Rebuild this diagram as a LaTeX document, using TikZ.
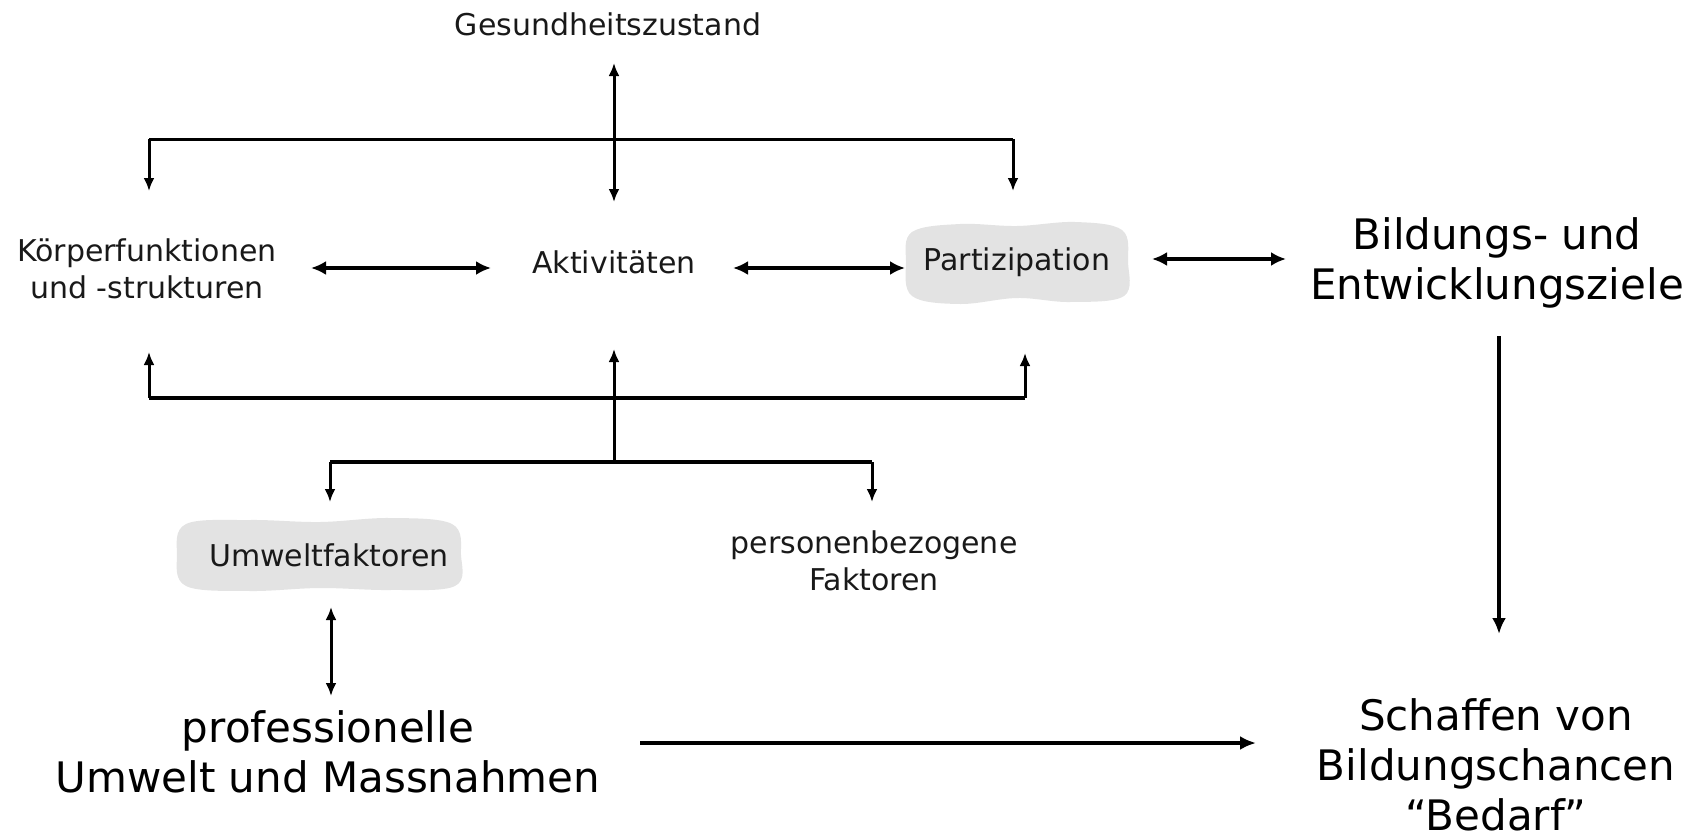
\documentclass[tikz,border=0pt]{standalone}
\usepackage{fontspec}
\setmainfont{DejaVu Sans}
\usetikzlibrary{arrows.meta}
\begin{document}
\begin{tikzpicture}[x=1pt,y=-1pt,
  small/.style={font=\fontsize{30}{37}\selectfont, align=center, inner sep=0pt, text=black!90},
  big/.style={font=\fontsize{42}{50}\selectfont, align=center, inner sep=0pt, text=black},
  conn/.style={line width=3pt},
  thick conn/.style={line width=4.5pt},
  arr/.style={conn, -{Latex[length=13pt,width=11pt]}},
  harr/.style={line width=4pt, {Latex[length=15pt,width=14pt]}-{Latex[length=15pt,width=14pt]}},
  darr/.style={conn, {Latex[length=13pt,width=11pt]}-{Latex[length=13pt,width=11pt]}},
  blob/.style={fill=black!11}]
\useasboundingbox (0,0) rectangle (1700,835);
% blobs
\fill[blob] plot[smooth cycle, tension=0.6] coordinates {(912,232) (960,224) (1017,226) (1075,222) (1122,230) (1128,262) (1124,296) (1070,302) (1017,298) (960,304) (912,296) (906,262)};
\fill[blob] plot[smooth cycle, tension=0.6] coordinates {(186,524) (250,520) (320,522) (390,518) (452,524) (461,555) (455,586) (390,590) (320,588) (250,591) (186,586) (177,555)};
% nodes
\node[small] (gz) at (608,24) {Gesundheitszustand};
\node[small] (kf) at (147,269) {Körperfunktionen\\und -strukturen};
\node[small] (akt) at (614,262) {Aktivitäten};
\node[small] (part) at (1017,262) {Partizipation};
\node[big] (bez) at (1497,263) {Bildungs- und\\Entwicklungsziele};
\node[small] (uf) at (329,555) {Umweltfaktoren};
\node[small] (pf) at (874,561) {personenbezogene\\Faktoren};
\node[big] (pum) at (328,752) {professionelle\\Umwelt und Massnahmen};
\node[big] (sb) at (1496,765) {Schaffen von\\Bildungschancen\\“Bedarf”};
% coordinates
\coordinate (tL) at (149,139);
\coordinate (tR) at (1013,139);
\coordinate (tLe) at (149,191);
\coordinate (tRe) at (1013,191);
\coordinate (gzA) at (614,63);
\coordinate (aktT) at (614,202);
\coordinate (bL) at (149,398);
\coordinate (bR) at (1025,398);
\coordinate (bLe) at (149,352);
\coordinate (bRe) at (1025,353);
\coordinate (aktB) at (614,349);
\coordinate (fC) at (614,462);
\coordinate (fL) at (330,462);
\coordinate (fR) at (872,462);
\coordinate (fLe) at (330,502);
\coordinate (fRe) at (872,502);
\coordinate (kfE) at (311,268);
\coordinate (aktW) at (491,268);
\coordinate (aktE) at (733,268);
\coordinate (partW) at (905,268);
\coordinate (partE) at (1152,259);
\coordinate (bezW) at (1286,259);
\coordinate (bezS) at (1499,336);
\coordinate (sbN) at (1499,634);
\coordinate (pumE) at (640,743);
\coordinate (sbW) at (1256,743);
\coordinate (ufS) at (331,607);
\coordinate (pumN) at (331,696);
% top bracket
\draw[conn] (tL) -- (tR);
\draw[arr] (tL) -- (tLe);
\draw[arr] (tR) -- (tRe);
\draw[darr] (gzA) -- (aktT);
% horizontal arrows
\draw[harr] (kfE) -- (aktW);
\draw[harr] (aktE) -- (partW);
\draw[harr] (partE) -- (bezW);
% bottom bracket
\draw[thick conn] (bL) -- (bR);
\draw[arr] (bL) -- (bLe);
\draw[arr] (bR) -- (bRe);
\draw[arr] (fC) -- (aktB);
\draw[thick conn] (fL) -- (fR);
\draw[arr] (fL) -- (fLe);
\draw[arr] (fR) -- (fRe);
% lower arrows
\draw[darr] (ufS) -- (pumN);
\draw[line width=3.5pt, -{Latex[length=16pt,width=14pt]}] (bezS) -- (sbN);
\draw[line width=3.5pt, -{Latex[length=16pt,width=14pt]}] (pumE) -- (sbW);
\end{tikzpicture}
\end{document}
